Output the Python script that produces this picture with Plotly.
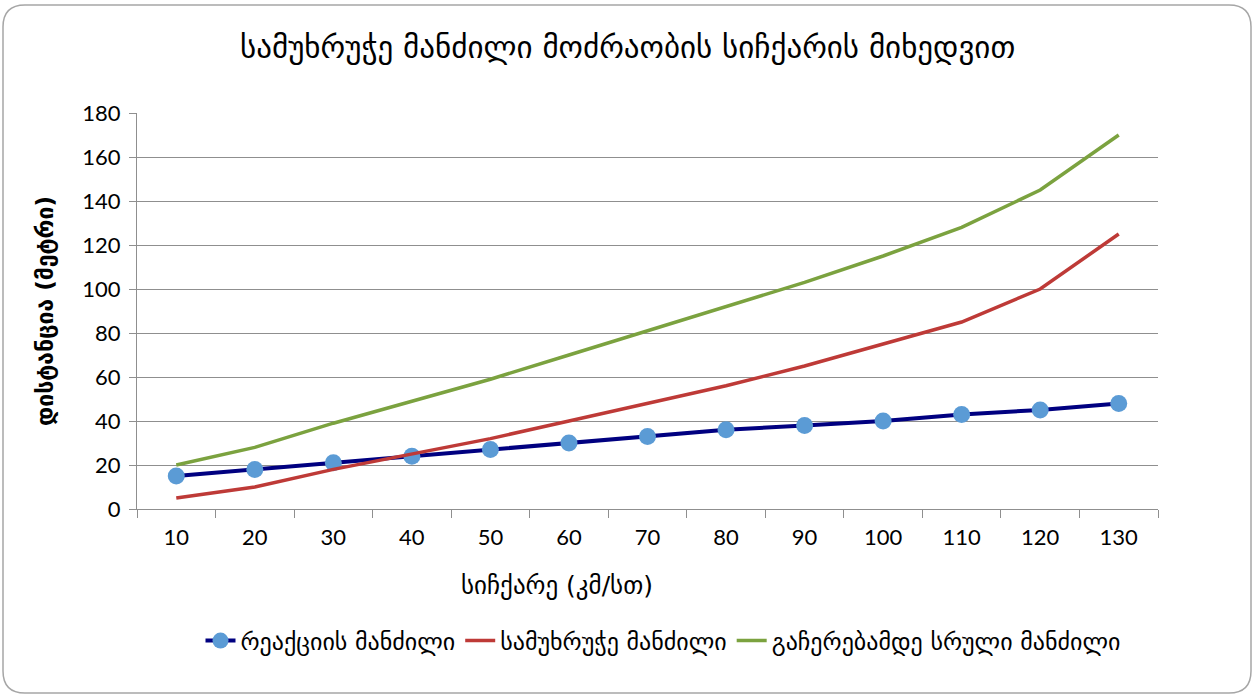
import plotly.graph_objects as go

speeds = [10, 20, 30, 40, 50, 60, 70, 80, 90, 100, 110, 120, 130]
reaction = [15, 18, 21, 24, 27, 30, 33, 36, 38, 40, 43, 45, 48]
braking = [5, 10, 18, 25, 32, 40, 48, 56, 65, 75, 85, 100, 125]
total = [20, 28, 39, 49, 59, 70, 81, 92, 103, 115, 128, 145, 170]

names = ["რეაქციის მანძილი", "სამუხრუჭე მანძილი", "გაჩერებამდე სრული მანძილი"]
title_text = "სამუხრუჭე მანძილი მოძრაობის სიჩქარის მიხედვით"
x_title = "სიჩქარე (კმ/სთ)"
y_title = "დისტანცია (მეტრი)"
y_ticks = [0, 20, 40, 60, 80, 100, 120, 140, 160, 180]

geo_font = "DejaVu Sans"
num_font = "Lato"
grid_col = "#8f8f8f"

cats = [str(s) for s in speeds]

fig = go.Figure()
fig.add_trace(go.Scatter(
    x=cats, y=reaction, name=names[0], mode="lines+markers",
    line=dict(color="#000080", width=4),
    marker=dict(color="#5B9BD5", size=17, line=dict(width=0)),
))
fig.add_trace(go.Scatter(
    x=cats, y=braking, name=names[1], mode="lines",
    line=dict(color="#BE3A37", width=3.5),
))
fig.add_trace(go.Scatter(
    x=cats, y=total, name=names[2], mode="lines",
    line=dict(color="#7BA23F", width=3.5),
))

L, R, T, B = 137, 1158, 113, 509
W, H = 1254, 696
pw, ph = R - L, B - T


def px(x):
    return (x - L) / pw


def py(y):
    return (B - y) / ph


# rounded frame around the whole chart
x0, x1, y0, y1, r = 3, 1251, 5, 693, 22
path = (
    f"M {px(x0 + r)},{py(y0)} L {px(x1 - r)},{py(y0)} "
    f"Q {px(x1)},{py(y0)} {px(x1)},{py(y0 + r)} "
    f"L {px(x1)},{py(y1 - r)} Q {px(x1)},{py(y1)} {px(x1 - r)},{py(y1)} "
    f"L {px(x0 + r)},{py(y1)} Q {px(x0)},{py(y1)} {px(x0)},{py(y1 - r)} "
    f"L {px(x0)},{py(y0 + r)} Q {px(x0)},{py(y0)} {px(x0 + r)},{py(y0)} Z"
)

fig.update_layout(
    width=W, height=H,
    margin=dict(l=L, r=W - R, t=T, b=H - B, autoexpand=False),
    paper_bgcolor="white", plot_bgcolor="white",
    showlegend=True,
    legend=dict(
        orientation="h", x=px(663), xref="paper", xanchor="center",
        y=py(641), yref="paper", yanchor="middle",
        font=dict(family=geo_font, size=24, color="#000000"),
        tracegroupgap=0,
    ),
    shapes=[dict(type="path", xref="paper", yref="paper", path=path,
                 line=dict(color="#a6a6a6", width=1.5), layer="below")],
    annotations=[
        dict(text=title_text, xref="paper", yref="paper", x=px(627), y=py(47),
             xanchor="center", yanchor="middle", showarrow=False,
             font=dict(family=geo_font, size=31, color="#000000")),
        dict(text=x_title, xref="paper", yref="paper", x=px(557), y=py(585),
             xanchor="center", yanchor="middle", showarrow=False,
             font=dict(family=geo_font, size=25, color="#000000")),
        dict(text="<b>" + y_title + "</b>", xref="paper", yref="paper",
             x=px(45), y=py(311),
             xanchor="center", yanchor="middle", showarrow=False, textangle=-90,
             font=dict(family=geo_font, size=23, color="#000000")),
    ],
)

fig.update_xaxes(
    type="category", range=[-0.5, len(cats) - 0.5],
    tickson="boundaries", ticks="outside", ticklen=8,
    tickcolor=grid_col, tickwidth=1.3,
    showline=True, linecolor=grid_col, linewidth=1.3,
    showgrid=False, mirror=False, tickangle=0, automargin=False,
    tickfont=dict(family=num_font, size=22, color="#000000"),
    ticklabelstandoff=8,
)
fig.update_yaxes(
    range=[0, 180], tickvals=y_ticks, ticks="outside", ticklen=7,
    tickcolor=grid_col, tickwidth=1.3, automargin=False,
    showline=True, linecolor=grid_col, linewidth=1.3,
    showgrid=True, gridcolor=grid_col, gridwidth=1.3,
    zeroline=False,
    tickfont=dict(family=num_font, size=22, color="#000000"),
    ticklabelstandoff=4,
)

fig.write_html("out.html")
